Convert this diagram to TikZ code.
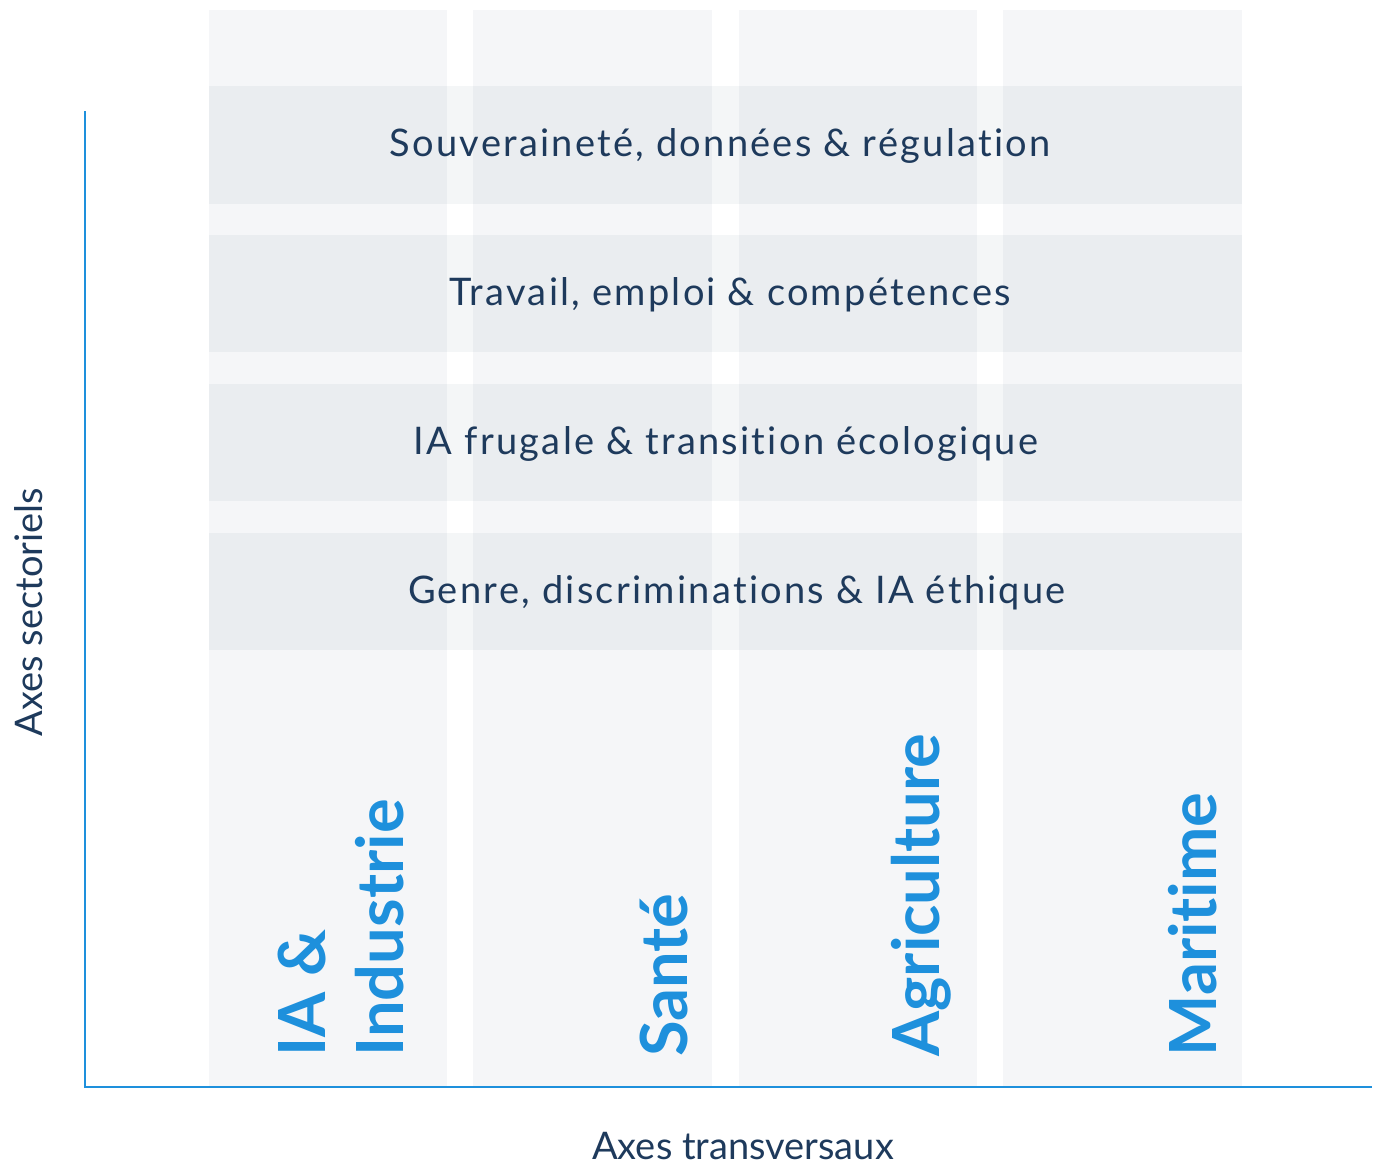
\documentclass[tikz,border=0pt]{standalone}
\usepackage{fontspec}
\setmainfont{Lato}[Ligatures=NoCommon]
\usepackage{xcolor}
\usepackage{tikz}
\definecolor{textnavy}{RGB}{30, 58, 92}
\definecolor{labelblue}{RGB}{30, 144, 220}
\definecolor{colgray}{RGB}{245, 246, 248}
\definecolor{rowslate}{RGB}{96, 125, 139}
\newfontfamily\rowfont[LetterSpace=6, Ligatures=NoCommon]{Lato}
\tikzset{
  rowtext/.style={font=\rowfont\fontsize{19}{22}\selectfont, text=textnavy},
  sectorlabel/.style={font=\bfseries\fontsize{32.5}{39}\selectfont, text=labelblue,
    rotate=90, anchor=west, inner sep=0pt, align=left},
  axistitle/.style={font=\fontsize{19}{22}\selectfont, text=textnavy, inner sep=0pt, anchor=base},
}

\begin{document}
\begin{tikzpicture}[x=0.5pt, y=-0.5pt]
        \useasboundingbox (0,0) rectangle (1379,1162);

        % colonnes
        \fill[colgray] (209,10) rectangle (447,1086);
        \fill[colgray] (473,10) rectangle (712,1086);
        \fill[colgray] (739,10) rectangle (977,1086);
        \fill[colgray] (1003,10) rectangle (1242,1086);

        % bandes transversales
        \fill[rowslate, fill opacity=0.07] (209,86) rectangle (1242,204);
        \fill[rowslate, fill opacity=0.07] (209,235) rectangle (1242,352);
        \fill[rowslate, fill opacity=0.07] (209,384) rectangle (1242,501);
        \fill[rowslate, fill opacity=0.07] (209,533) rectangle (1242,650);

        \node[rowtext] (souv) at (720,146) {Souveraineté, données \& régulation};
        \node[rowtext] (travail) at (730,295) {Travail, emploi \& compétences};
        \node[rowtext] (frugale) at (726,444) {IA frugale \& transition écologique};
        \node[rowtext] (genre) at (737,593) {Genre, discriminations \& IA éthique};

        % axes sectoriels
        \node[sectorlabel] (industrie) at (341,1057) {IA \&\\Industrie};
        \node[sectorlabel] (sante) at (664,1057) {Santé};
        \node[sectorlabel] (agri) at (921,1057) {Agriculture};
        \node[sectorlabel] (maritime) at (1193,1057) {Maritime};

        % repère
        \coordinate (origin) at (85,1087);
        \coordinate (ytop) at (85,111);
        \coordinate (xend) at (1372,1087);
        \draw[labelblue, line width=0.6pt] (ytop) -- (origin) -- (xend);

        \node[axistitle, rotate=90] (ytitle) at (42,612) {Axes sectoriels};
        \node[axistitle] (xtitle) at (743,1159) {Axes transversaux};
    \end{tikzpicture}
\end{document}
